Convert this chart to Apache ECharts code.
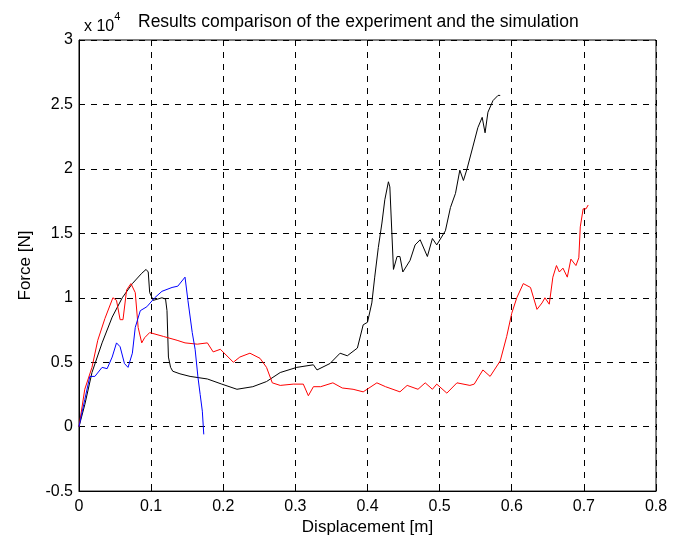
<!DOCTYPE html>
<html>
<head>
<meta charset="utf-8">
<script src="https://cdn.jsdelivr.net/npm/echarts@6/dist/echarts.min.js"></script>
<style>
  html, body { margin: 0; padding: 0; background: #fff; }
  #main { width: 681px; height: 541px; }
</style>
</head>
<body>
<div id="main"></div>
<script>
// force values are in units of 10^4 N, displacement in m
var xTicks = [0, 0.1, 0.2, 0.3, 0.4, 0.5, 0.6, 0.7, 0.8];
var yTicks = [-0.5, 0, 0.5, 1, 1.5, 2, 2.5, 3];

var blackLine = [
  [0,0],[0.008,0.17],[0.018,0.42],[0.032,0.65],[0.046,0.85],[0.06,1.0],[0.074,1.11],[0.087,1.19],
  [0.093,1.22],[0.096,1.2],[0.098,1.04],[0.103,0.98],[0.115,1.0],[0.12,0.99],[0.122,0.9],[0.124,0.54],
  [0.127,0.46],[0.13,0.43],[0.14,0.41],[0.154,0.39],[0.178,0.37],[0.198,0.33],[0.219,0.29],[0.241,0.31],
  [0.26,0.35],[0.279,0.42],[0.302,0.46],[0.325,0.48],[0.33,0.44],[0.348,0.49],[0.362,0.57],[0.372,0.55],
  [0.386,0.61],[0.394,0.79],[0.40,0.81],[0.406,0.96],[0.41,1.16],[0.415,1.39],[0.42,1.58],[0.424,1.76],
  [0.429,1.90],[0.431,1.86],[0.436,1.22],[0.441,1.32],[0.445,1.32],[0.449,1.2],[0.459,1.29],[0.466,1.41],
  [0.473,1.45],[0.483,1.32],[0.49,1.46],[0.496,1.41],[0.508,1.52],[0.515,1.70],[0.522,1.81],[0.528,1.99],
  [0.533,1.91],[0.538,2.0],[0.546,2.17],[0.553,2.32],[0.559,2.4],[0.563,2.28],[0.567,2.44],[0.574,2.53],
  [0.581,2.57],[0.584,2.57]
];

var redLine = [
  [0,0],[0.008,0.29],[0.018,0.46],[0.026,0.67],[0.036,0.84],[0.047,1.0],[0.052,0.98],[0.057,0.83],
  [0.061,0.83],[0.066,1.06],[0.072,1.11],[0.078,1.04],[0.082,0.77],[0.087,0.65],[0.091,0.69],[0.098,0.73],
  [0.117,0.70],[0.136,0.67],[0.147,0.65],[0.164,0.64],[0.178,0.65],[0.186,0.58],[0.196,0.60],[0.214,0.50],
  [0.223,0.54],[0.237,0.57],[0.251,0.53],[0.26,0.46],[0.268,0.34],[0.279,0.32],[0.297,0.33],[0.311,0.33],
  [0.318,0.24],[0.325,0.31],[0.335,0.31],[0.352,0.34],[0.365,0.30],[0.38,0.29],[0.394,0.27],[0.413,0.34],
  [0.425,0.31],[0.445,0.27],[0.455,0.32],[0.47,0.29],[0.48,0.34],[0.49,0.29],[0.496,0.33],[0.51,0.26],
  [0.524,0.34],[0.542,0.32],[0.548,0.33],[0.56,0.44],[0.57,0.39],[0.584,0.51],[0.593,0.70],[0.60,0.88],
  [0.607,1.0],[0.616,1.11],[0.626,1.08],[0.635,0.91],[0.642,0.96],[0.646,1.0],[0.652,0.95],[0.657,1.16],
  [0.662,1.25],[0.666,1.2],[0.671,1.23],[0.677,1.16],[0.682,1.30],[0.689,1.25],[0.693,1.31],[0.695,1.55],
  [0.699,1.69],[0.703,1.69],[0.706,1.72]
];

var blueLine = [
  [0,0],[0.008,0.21],[0.015,0.39],[0.022,0.39],[0.032,0.46],[0.039,0.45],[0.046,0.54],[0.052,0.65],
  [0.057,0.62],[0.063,0.49],[0.068,0.46],[0.074,0.57],[0.078,0.77],[0.085,0.90],[0.094,0.93],[0.105,1.0],
  [0.115,1.05],[0.129,1.08],[0.137,1.09],[0.147,1.16],[0.151,0.98],[0.157,0.73],[0.161,0.60],[0.165,0.38],
  [0.168,0.25],[0.171,0.12],[0.173,-0.06]
];

var font = 'Liberation Sans, Arial, sans-serif';

function makeLine(name, data, color) {
  return {
    name: name,
    type: 'line',
    data: data,
    symbol: 'none',
    lineStyle: { color: color, width: 1 }
  };
}

function tickText(list) {
  return function (v) {
    var r = Math.round(v * 10) / 10;
    return list.indexOf(r) >= 0 ? String(r) : '';
  };
}

var option = {
  animation: false,
  title: [
    {
      text: 'Results comparison of the experiment and the simulation',
      left: 133, top: 8,
      textStyle: { fontFamily: font, fontSize: 17.5, fontWeight: 'normal', color: '#000' }
    },
    {
      text: '{a|x 10}{b|4}',
      left: 79, top: 6,
      textStyle: {
        fontWeight: 'normal',
        rich: {
          a: { fontFamily: font, fontSize: 16, fontWeight: 'normal', color: '#000', padding: [8, 0, 0, 0] },
          b: { fontFamily: font, fontSize: 11, fontWeight: 'normal', color: '#000', verticalAlign: 'top' }
        }
      }
    }
  ],
  grid: { left: 79, right: 25, top: 40, bottom: 49, show: true, borderColor: '#000', borderWidth: 1 },
  xAxis: {
    type: 'value',
    min: 0, max: 0.8, interval: 0.1,
    name: 'Displacement [m]',
    nameLocation: 'middle',
    nameGap: 23,
    nameTextStyle: { fontFamily: font, fontSize: 17, color: '#000' },
    axisLine: { show: true, onZero: false, lineStyle: { color: '#000' } },
    axisTick: { show: true, inside: true, length: 5, lineStyle: { color: '#000' } },
    axisLabel: { fontFamily: font, fontSize: 16, color: '#000', margin: 7, formatter: tickText(xTicks) },
    splitLine: { show: true, lineStyle: { color: '#000', type: [6, 6], width: 1 } }
  },
  yAxis: {
    type: 'value',
    min: -0.5, max: 3, interval: 0.5,
    name: 'Force [N]',
    nameLocation: 'middle',
    nameGap: 45,
    nameTextStyle: { fontFamily: font, fontSize: 17, color: '#000' },
    axisLine: { show: true, onZero: false, lineStyle: { color: '#000' } },
    axisTick: { show: true, inside: true, length: 5, lineStyle: { color: '#000' } },
    axisLabel: { fontFamily: font, fontSize: 16, color: '#000', margin: 6, formatter: tickText(yTicks) },
    splitLine: { show: true, lineStyle: { color: '#000', type: [6, 6], width: 1 } }
  },
  series: [
    makeLine('experiment', blackLine, '#000000'),
    makeLine('simulation A', redLine, '#ff0000'),
    makeLine('simulation B', blueLine, '#0000ff')
  ]
};

var myChart = echarts.init(document.getElementById('main'));
myChart.setOption(option, true);
</script>
</body>
</html>
